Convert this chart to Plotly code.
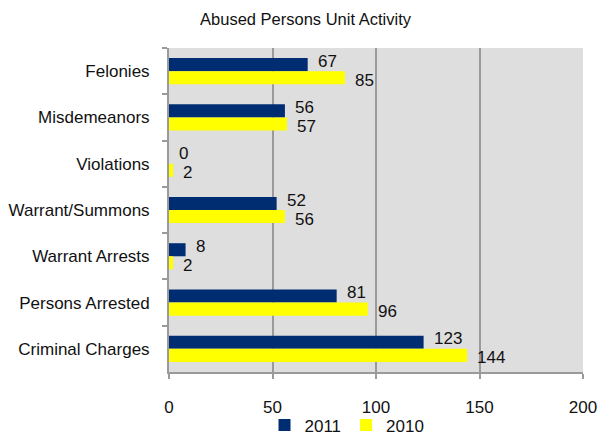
import plotly.graph_objects as go

categories = ["Felonies", "Misdemeanors", "Violations", "Warrant/Summons",
              "Warrant Arrests", "Persons Arrested", "Criminal Charges"]
values_2011 = [67, 56, 0, 52, 8, 81, 123]
values_2010 = [85, 57, 2, 56, 2, 96, 144]
x_ticks = [0, 50, 100, 150, 200]

FONT = "Liberation Sans, Arial, sans-serif"
INK = "#111111"
COLOR_2011 = "#002D72"
COLOR_2010 = "#FFFF00"

fig = go.Figure()
fig.add_trace(go.Bar(
    y=categories, x=values_2011, name="2011", orientation="h",
    marker=dict(color=COLOR_2011, line=dict(width=0)),
))
fig.add_trace(go.Bar(
    y=categories, x=values_2010, name="2010", orientation="h",
    marker=dict(color=COLOR_2010, line=dict(width=0)),
))

# value labels just right of each bar end: 2011 nudged up, 2010 nudged down
for cat, v in zip(categories, values_2011):
    fig.add_annotation(x=v, y=cat, text=str(v), showarrow=False,
                       xanchor="left", yanchor="middle", xshift=8, yshift=10,
                       font=dict(family=FONT, size=17, color=INK))
for cat, v in zip(categories, values_2010):
    fig.add_annotation(x=v, y=cat, text=str(v), showarrow=False,
                       xanchor="left", yanchor="middle", xshift=8, yshift=-9,
                       font=dict(family=FONT, size=17, color=INK))

fig.update_layout(
    width=611, height=437,
    margin=dict(l=169, r=28, t=48, b=65, autoexpand=False),
    paper_bgcolor="white",
    plot_bgcolor="#DEDEDE",
    barmode="group",
    bargap=0.435,
    bargroupgap=0,
    font=dict(family=FONT, size=17, color=INK),
    title=dict(text="Abused Persons Unit Activity", x=0.5, xanchor="center",
               y=0.955, yanchor="middle",
               font=dict(family=FONT, size=16.5, color=INK)),
    showlegend=True,
    legend=dict(orientation="h", x=0.43, xanchor="center", y=-0.165, yanchor="middle",
                font=dict(family=FONT, size=17, color=INK), traceorder="normal",
                itemwidth=30, bgcolor="rgba(0,0,0,0)"),
    xaxis=dict(range=[0, 200], tickvals=x_ticks, showgrid=True,
               gridcolor="#9A9A9A", gridwidth=2, zeroline=False,
               showline=True, linecolor="#9A9A9A", linewidth=2,
               ticks="outside", ticklen=5, tickcolor="#9A9A9A", tickwidth=2,
               ticklabelstandoff=14,
               tickfont=dict(family=FONT, size=17, color=INK), fixedrange=True),
    yaxis=dict(autorange="reversed", showline=True, linecolor="#9A9A9A", linewidth=2,
               ticks="outside", tickson="boundaries", ticklen=5,
               tickcolor="#9A9A9A", tickwidth=2, showgrid=False,
               ticklabelstandoff=14,
               tickfont=dict(family=FONT, size=17, color=INK)),
)

fig.write_html("out.html")
